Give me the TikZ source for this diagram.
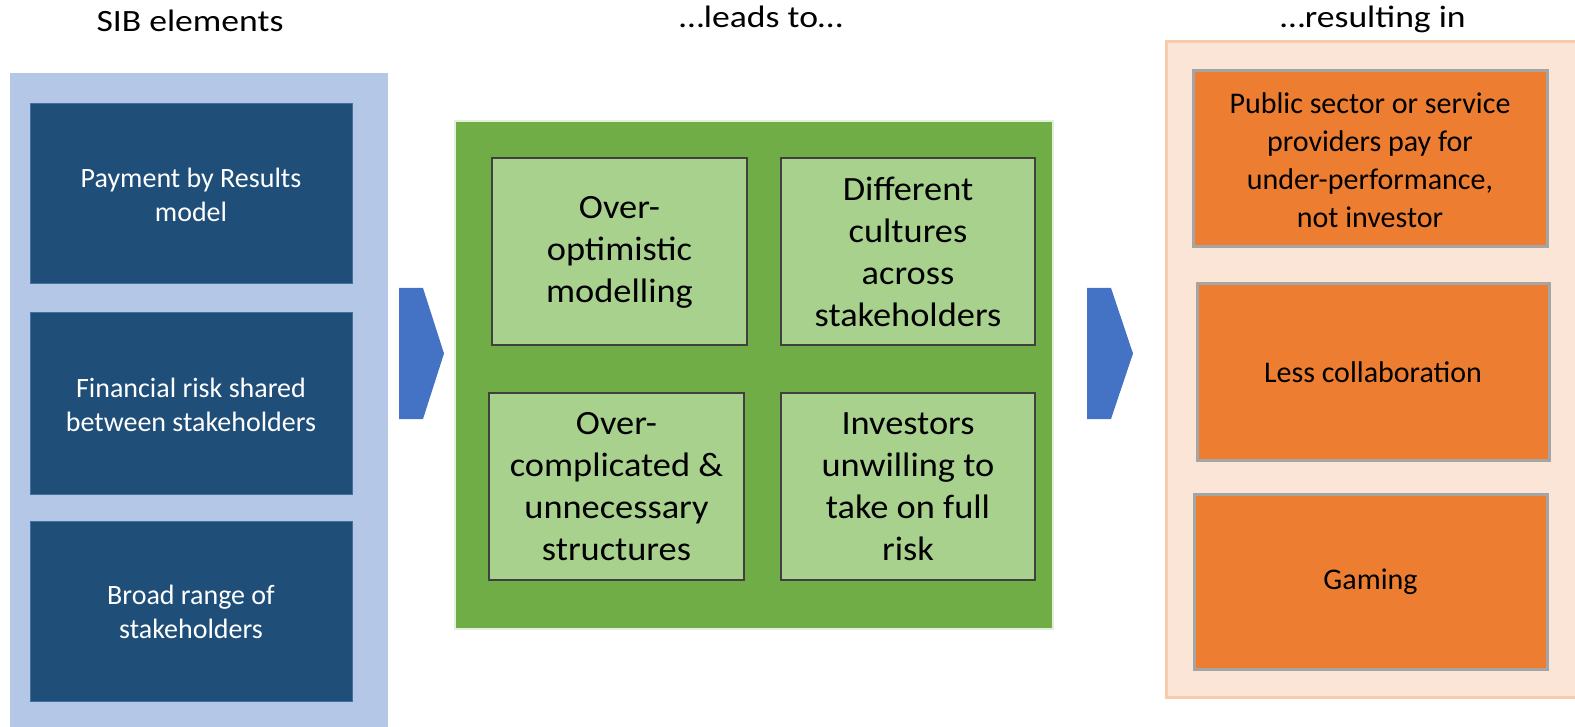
\documentclass[tikz,border=0pt]{standalone}
\usepackage{fontspec}
\setmainfont{Carlito}
\newfontfamily\widefont[FakeStretch=1.15]{Carlito}
\newfontfamily\midfont[FakeStretch=1.07]{Carlito}
\definecolor{lightblue}{HTML}{B4C7E7}
\definecolor{darkblue}{HTML}{1F4E79}
\definecolor{darkblueedge}{HTML}{41719C}
\definecolor{arrowblue}{HTML}{4472C4}
\definecolor{green}{HTML}{70AD47}
\definecolor{greenedge}{HTML}{E2F0D9}
\definecolor{lightgreen}{HTML}{A9D18E}
\definecolor{peach}{HTML}{FBE5D6}
\definecolor{peachedge}{HTML}{F8CBAD}
\definecolor{orange}{HTML}{ED7D31}
\definecolor{grayedge}{HTML}{A5A5A5}
\definecolor{boxedge}{HTML}{404040}
\tikzset{
  sibbox/.style={fill=darkblue, draw=darkblueedge, line width=1pt},
  midbox/.style={fill=lightgreen, draw=boxedge, line width=2.5pt},
  resbox/.style={fill=orange, draw=grayedge, line width=3pt},
  title/.style={anchor=base, font=\widefont\fontsize{31}{37}\selectfont},
  sibtext/.style={align=center, text=white, font=\fontsize{28}{34}\selectfont},
  midtext/.style={align=center, text=black, font=\midfont\fontsize{34}{42}\selectfont},
  restext/.style={align=center, text=black, font=\fontsize{30}{38}\selectfont},
}
\begin{document}
\begin{tikzpicture}[x=1pt, y=-1pt]
\useasboundingbox (0,0) rectangle (1575,727);
% titles
\node[title] (t1) at (190,32) {SIB elements};
\node[title] (t2) at (761,28) {…leads to…};
\node[title] (t3) at (1373,28) {…resulting in};
% left panel
\path[fill=lightblue] (10,73) rectangle (388,727);
\draw[sibbox] (30,104) rectangle (352,284);
\draw[sibbox] (30,313) rectangle (352,494);
\draw[sibbox] (30,521) rectangle (352,701);
\node[sibtext] (s1) at (191,195) {Payment by Results\\model};
\node[sibtext] (s2) at (191,404.5) {Financial risk shared\\between stakeholders};
\node[sibtext] (s3) at (191,612) {Broad range of\\stakeholders};
% arrows
\fill[arrowblue] (399,288) -- (423,288) -- (444,353.5) -- (423,419) -- (399,419) -- cycle;
\fill[arrowblue] (1087,288) -- (1111,288) -- (1133,353.5) -- (1111,419) -- (1087,419) -- cycle;
% middle panel
\draw[fill=green, draw=greenedge, line width=1.5pt] (455,121) rectangle (1053,629);
\draw[midbox] (492,158) rectangle (747,345);
\draw[midbox] (781,158) rectangle (1035,345);
\draw[midbox] (489,393) rectangle (744,580);
\draw[midbox] (781,393) rectangle (1035,580);
\node[midtext] (m1) at (619.5,252) {Over-\\optimistic\\modelling};
\node[midtext] (m2) at (908,252) {Different\\cultures\\across\\stakeholders};
\node[midtext] (m3) at (616.5,487) {Over-\\complicated \&\\unnecessary\\structures};
\node[midtext] (m4) at (908,487) {Investors\\unwilling to\\take on full\\risk};
% right panel
\draw[fill=peach, draw=peachedge, line width=3pt] (1166,42) rectangle (1580,697);
\draw[resbox] (1193,71) rectangle (1547,247);
\draw[resbox] (1197,284) rectangle (1549,460);
\draw[resbox] (1194,494) rectangle (1547,669);
\node[restext] (r1) at (1370,160) {Public sector or service\\providers pay for\\under-performance,\\not investor};
\node[restext] (r2) at (1373,372) {Less collaboration};
\node[restext] (r3) at (1370.5,581.5) {Gaming};
\end{tikzpicture}
\end{document}
